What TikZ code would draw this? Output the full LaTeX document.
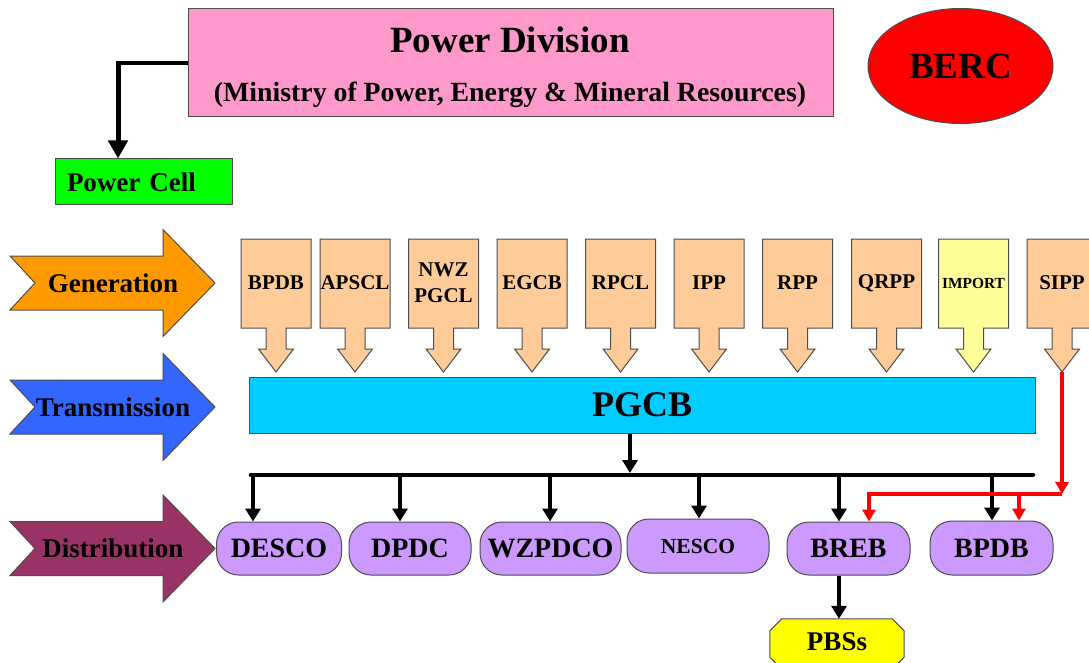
\documentclass[tikz,border=0pt]{standalone}
\usepackage{fontspec}
\setmainfont{Liberation Serif}
\usetikzlibrary{arrows.meta,shapes.geometric}
\definecolor{pdpink}{HTML}{FF99CC}
\definecolor{pcgreen}{HTML}{00FF00}
\definecolor{bercred}{HTML}{FF0000}
\definecolor{peach}{HTML}{FFCC99}
\definecolor{lightyel}{HTML}{FFFF99}
\definecolor{pgcbcyan}{HTML}{00CCFF}
\definecolor{lilac}{HTML}{CC99FF}
\definecolor{genorange}{HTML}{FF9900}
\definecolor{trblue}{HTML}{3366FF}
\definecolor{distmaroon}{HTML}{993366}
\definecolor{pbsyel}{HTML}{FFFF00}
\definecolor{outl}{HTML}{4D4D4D}
\newcommand\fsz[1]{\fontsize{#1}{#1}\selectfont}
\tikzset{
  box/.style={draw=outl, line width=1pt, inner sep=0pt},
  shapeline/.style={draw=outl, line width=1pt},
  arr/.style={draw=black, line width=4.5pt, -{Triangle[length=13pt,width=15pt]}},
  busline/.style={draw=black, line width=4.5pt},
  redarr/.style={draw=red, line width=3.5pt, -{Triangle[length=12pt,width=13pt]}},
  dist/.style={box, fill=lilac, rounded corners=22pt, minimum height=53pt, font=\bfseries\fsz{28}},
  calltext/.style={inner sep=0pt, align=center, font=\bfseries\fsz{21}},
}
% name, cx, fill, text, font size
\newcommand\callout[5]{%
  \path[shapeline, fill=#3] ({#2-35},239) -- ({#2+35},239) -- ({#2+35},328) -- ({#2+10},328)
    -- ({#2+10},349) -- ({#2+17.5},349) -- (#2,372) -- ({#2-17.5},349) -- ({#2-10},349)
    -- ({#2-10},328) -- ({#2-35},328) -- cycle;
  \node[calltext, font=\bfseries\fontsize{#5}{26}\selectfont] (#1) at (#2,283) {#4};
  \coordinate (#1tip) at (#2,372);
}
% name, cy, fill, text
\newcommand\sidearrow[4]{%
  \path[shapeline, fill=#3] (10,{#2-27}) -- (163,{#2-27}) -- (163,{#2-53.5}) -- (215,#2)
    -- (163,{#2+53.5}) -- (163,{#2+27}) -- (10,{#2+27}) -- (35,#2) -- cycle;
  \node[inner sep=0pt, font=\bfseries\fsz{27}] (#1) at (113,#2) {#4};
}
\begin{document}
\begin{tikzpicture}[x=1pt,y=-1pt]
\clip (0,0) rectangle (1089,663);
\fill[white] (0,0) rectangle (1089,663);

% Power Division
\node[box, fill=pdpink, minimum width=645pt, minimum height=108pt] (pd) at (510.5,63) {};
\node[inner sep=0pt, font=\bfseries\fsz{37}] (pdt) at (510,40) {Power Division};
\node[inner sep=0pt, font=\bfseries\fsz{27.8}] (pds) at (510,95) {(Ministry of Power, Energy \& Mineral Resources)};

% BERC
\node[ellipse, draw=outl, line width=1pt, fill=bercred, minimum width=185pt, minimum height=115pt, inner sep=0pt, font=\bfseries\fsz{37}] (berc) at (960.5,66) {BERC};

% Power Cell
\node[box, fill=pcgreen, minimum height=46pt, text width=153pt, inner xsep=12pt, align=left, font=\bfseries\fsz{27}] (pc) at (143.5,182) {Power Cell};
\coordinate (pcbend) at (118,63);
\draw[line width=3.5pt] (pd.west) -- (pcbend);
\draw[line width=5pt, -{Triangle[length=18pt,width=19pt]}] ([yshift=1.75pt]pcbend) -- ([xshift=-25.5pt]pc.north);

% Side arrows
\sidearrow{gen}{283}{genorange}{Generation}
\sidearrow{trans}{407}{trblue}{Transmission}
\sidearrow{distr}{548.5}{distmaroon}{Distribution}

% Generation callouts
\callout{g1}{276}{peach}{BPDB}{21}
\callout{g2}{355}{peach}{APSCL}{21}
\callout{g3}{443.5}{peach}{NWZ\\PGCL}{21}
\callout{g4}{532}{peach}{EGCB}{21}
\callout{g5}{620.5}{peach}{RPCL}{21}
\callout{g6}{709}{peach}{IPP}{21}
\callout{g7}{797.5}{peach}{RPP}{21}
\callout{g8}{886.5}{peach}{QRPP}{21}
\callout{g9}{973.5}{lightyel}{IMPORT}{15.4}
\callout{sipp}{1062}{peach}{SIPP}{21}

% PGCB
\node[box, fill=pgcbcyan, minimum width=786pt, minimum height=56pt, font=\bfseries\fsz{36}] (pgcb) at (642,405) {PGCB};

% Distribution nodes
\node[dist, minimum width=125pt] (desco) at (279,548.5) {DESCO};
\node[dist, minimum width=122pt] (dpdc) at (410,548.5) {DPDC};
\node[dist, minimum width=141pt] (wzpdco) at (550.5,548.5) {WZPDCO};
\node[dist, minimum width=142pt, minimum height=54pt, font=\bfseries\fsz{21.5}] (nesco) at (698,546) {NESCO};
\node[dist, minimum width=123pt] (breb) at (848.5,548.5) {BREB};
\node[dist, minimum width=123pt, minimum height=54pt] (bpdbd) at (991.5,548) {BPDB};

% Bus
\coordinate (busL) at (251,475);
\coordinate (busR) at (1033,475);
\coordinate (busjoin) at (630,475);
\coordinate (d1) at (253,475);
\coordinate (d2) at (400,475);
\coordinate (d3) at (550,475);
\coordinate (d4) at (699,475);
\coordinate (d5) at (839,475);
\coordinate (d6) at (992,475);
\draw[busline, line cap=round] (busL) -- (busR);
\draw[arr] (pgcb.south -| busjoin) -- ([yshift=2pt]busjoin);
\draw[arr] (d1) -- (d1 |- desco.north);
\draw[arr] (d2) -- (d2 |- dpdc.north);
\draw[arr] (d3) -- (d3 |- wzpdco.north);
\draw[arr] (d4) -- (d4 |- nesco.north);
\draw[arr] (d5) -- (d5 |- breb.north);
\draw[arr] (d6) -- (d6 |- bpdbd.north);

% Red SIPP lines
\coordinate (rj) at (1062,494);
\coordinate (r1) at (869,494);
\coordinate (r2) at (1019,494);
\draw[redarr] (sipptip) -- (rj);
\draw[redarr] (rj) -- (r1) -- (r1 |- breb.north);
\draw[redarr] (r2) -- (r2 |- bpdbd.north);

% PBSs
\node[minimum width=134pt, minimum height=50pt, inner sep=0pt] (pbs) at (837,644) {};
\path[shapeline, fill=pbsyel] ([xshift=12pt]pbs.north west) -- ([xshift=-12pt]pbs.north east)
  -- ([yshift=-12pt]pbs.north east) -- ([yshift=12pt]pbs.south east) -- ([xshift=-12pt]pbs.south east)
  -- ([xshift=12pt]pbs.south west) -- ([yshift=12pt]pbs.south west) -- ([yshift=-12pt]pbs.north west) -- cycle;
\node[inner sep=0pt, font=\bfseries\fsz{27}] (pbst) at (837,642) {PBSs};
\draw[arr] (breb.south -| d5) -- (d5 |- pbs.north);
\end{tikzpicture}
\end{document}
